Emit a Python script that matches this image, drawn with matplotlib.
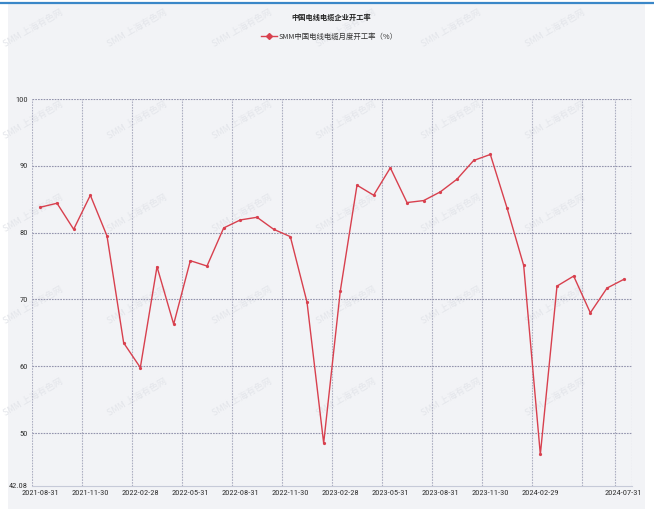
import pandas as pd
import matplotlib
matplotlib.use("Agg")
import matplotlib.pyplot as plt
from matplotlib.patches import Rectangle
from matplotlib.lines import Line2D

# SMM monthly operating rate of China's wire & cable makers (%)
months = pd.date_range("2021-08-31", "2024-07-31", freq="ME").strftime("%Y-%m-%d").tolist()
rate = [83.8, 84.4, 80.5, 85.6, 79.5, 63.5, 59.8, 74.9, 66.3, 75.8,
        75.0, 80.7, 81.9, 82.3, 80.5, 79.4, 69.6, 48.5, 71.3, 87.1,
        85.6, 89.7, 84.5, 84.8, 86.1, 88.0, 90.8, 91.7, 83.7, 75.1,
        46.8, 72.0, 73.5, 68.0, 71.7, 73.0]
tick_labels = ["2021-08-31", "2021-11-30", "2022-02-28", "2022-05-31",
               "2022-08-31", "2022-11-30", "2023-02-28", "2023-05-31",
               "2023-08-31", "2023-11-30", "2024-02-29", "2024-07-31"]
y_ticks = [42.08, 50, 60, 70, 80, 90, 100]

W, H = 654, 509
cjk = ["Noto Sans CJK SC", "DejaVu Sans"]
narrow = ["Roboto Condensed", "Liberation Sans Narrow", "Roboto", "DejaVu Sans"]

fig = plt.figure(figsize=(W / 100, H / 100), dpi=100)
fig.patch.set_facecolor("white")

# grey panel + blue top strip
fig.patches.append(Rectangle((8 / W, 0), (645 - 8) / W, 1 - 4 / H, transform=fig.transFigure,
                             facecolor="#f2f3f6", edgecolor="none", zorder=-10))
fig.lines.append(Line2D([0, 1], [1 - 3 / H, 1 - 3 / H], transform=fig.transFigure,
                        color="#3a87c8", lw=1.6, zorder=-5))

# faint watermarks
for r in range(5):
    for c in range(7):
        x = 33 + 104.5 * c
        y = 28 + 92.4 * r
        if x > 620:
            continue
        fig.text(x / W, 1 - y / H, "SMM 上海有色网", rotation=30, fontsize=6.5,
                 color="#e3e5ea", ha="center", va="center", family=cjk, zorder=-5)

ax = fig.add_axes([32 / W, 23 / H, 600 / W, 387 / H])
ax.set_facecolor("none")
ax.set_zorder(2)

xs = [i + 0.5 for i in range(len(months))]
ax.plot(xs, rate, color="#d8404e", lw=1.0, marker="o", ms=1.3, zorder=3,
        label="SMM中国电线电缆月度开工率（%）")

ax.set_xlim(0, len(months))
ax.set_ylim(42.08, 100)

# vertical grid at band starts
tick_idx = [months.index(t) for t in tick_labels]
for i in list(range(0, 34, 3)) + [35, 36]:
    ax.axvline(i, color="#aeb0c2", lw=0.8, ls=(0, (1.5, 1)), zorder=1)
for v in y_ticks[1:]:
    ax.axhline(v, color="#9394ad", lw=0.8, ls=(0, (1.5, 1)), zorder=1)

ax.set_xticks([i + 0.5 for i in tick_idx])
ax.set_xticklabels(tick_labels)
ax.set_yticks(y_ticks)
ax.set_yticklabels(["42.08", "50", "60", "70", "80", "90", "100"])
ax.tick_params(length=0, labelsize=6, labelcolor="#333333", pad=3)
for lab in ax.get_xticklabels() + ax.get_yticklabels():
    lab.set_family(narrow)

for s in ["top", "left", "right"]:
    ax.spines[s].set_visible(False)
ax.spines["bottom"].set_color("#c6cad8")
ax.spines["bottom"].set_linewidth(0.8)

fig.text(331 / W, 1 - 17 / H, "中国电线电缆企业开工率", ha="center", va="center",
         fontsize=5.2, fontweight="bold", color="#222222", family=cjk)

leg = ax.legend(loc="center", bbox_to_anchor=(329 / W, 1 - 37 / H), bbox_transform=fig.transFigure,
                frameon=False, handlelength=2.2, handletextpad=0.2,
                prop={"family": cjk, "size": 5.3})
for h in leg.legend_handles:
    h.set_marker("D")
    h.set_markersize(3)
for t in leg.get_texts():
    t.set_color("#333333")

fig.savefig("out.png", dpi=100, facecolor=fig.get_facecolor())
